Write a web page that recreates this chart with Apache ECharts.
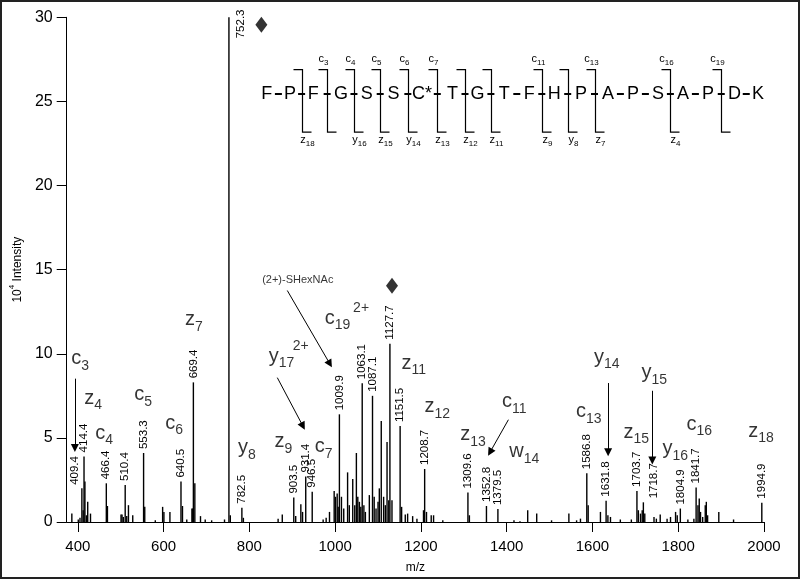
<!DOCTYPE html>
<html><head><meta charset="utf-8">
<script src="https://cdn.jsdelivr.net/npm/echarts@6/dist/echarts.min.js"></script>
<style>html,body{margin:0;padding:0;background:#fff}#c{width:800px;height:579px}</style>
</head><body><div id="c"></div>
<script>
// ---- spectrum peaks (m/z, intensity in 10^4) ----
const peakMz = [386,401,405,409.4,412.4,414.4,416.5,420,423,429.5,466.4,469,500.7,503,506,510.4,514,518,528,553.3,556,580.6,597.7,600.7,614.7,640.5,644,654,666,668,669.4,672.8,686,697,712,742,752.3,755.5,782.5,786,867,876.7,903.5,908,920,924,931.4,946.5,972,979,986.8,997.7,1000.7,1004.7,1007,1009.9,1014.7,1020,1029,1033,1041,1045.7,1049.5,1052.8,1056.5,1059.8,1063.1,1067,1070.5,1079.7,1087.1,1091,1095.3,1100,1103,1107.5,1113,1117,1121,1125,1127.7,1132.5,1151.5,1155,1163.5,1169,1180.7,1190.7,1206,1208.7,1213,1224,1229.5,1251,1309.6,1313,1352.8,1379.5,1417,1431,1449,1470,1504.6,1545,1563,1572,1586.8,1590,1618.6,1631.8,1636,1642,1665,1690.7,1703.7,1707,1712,1716,1718.7,1722,1743.5,1749,1758,1774,1782,1793.8,1797.7,1804.9,1822.5,1836.5,1841.7,1846,1849,1852,1857,1863,1865.5,1868.5,1894.6,1929,1994.9];
const peakInt = [0.5,0.15,0.25,2.0,0.7,3.9,2.4,0.4,1.2,0.5,2.3,0.95,0.45,0.45,0.3,2.2,0.35,1.0,0.4,4.1,0.9,0.1,0.9,0.6,0.6,2.4,0.95,0.15,0.8,0.8,8.3,2.3,0.35,0.15,0.1,0.15,30,0.4,0.85,0.25,0.2,0.45,1.45,0.35,1.05,0.6,2.7,1.8,0.15,0.25,0.6,1.85,1.5,1.7,0.9,6.4,1.5,0.8,2.95,1.0,2.55,1.0,4.1,1.5,1.2,0.9,8.25,1.0,0.6,1.6,7.5,1.5,0.8,1.2,2.0,6.0,1.5,1.0,4.75,1.3,10.6,1.3,5.7,0.9,0.45,0.5,0.35,0.2,0.7,3.15,0.6,0.4,0.4,0.1,1.75,0.4,0.95,0.77,0.1,0.05,0.7,0.5,0.1,0.5,0.1,0.2,2.9,1.0,0.6,1.27,0.4,0.3,0.15,0.15,1.85,0.7,0.5,0.7,1.17,0.5,0.3,0.2,0.45,0.2,0.3,0.6,0.4,0.8,0.15,0.2,2.05,1.0,1.4,0.6,0.3,1.0,1.2,0.4,0.6,0.15,1.15];
const labeledMz = [409.4,414.4,466.4,510.4,553.3,640.5,669.4,752.3,782.5,903.5,931.4,946.5,1009.9,1063.1,1087.1,1127.7,1151.5,1208.7,1309.6,1352.8,1379.5,1586.8,1631.8,1703.7,1718.7,1804.9,1841.7,1994.9];

// ---- ion annotations ----
const ionMain = ['c','z','c','c','c','z','y','z','c','y','c','z','z','z','c','w','c','y','y','z','y','c','z'];
const ionSub  = ['3','4','4','5','6','7','8','9','7','17','19','11','12','13','11','14','13','14','15','15','16','16','18'];
const ionMz   = [386.0,416.3,441.9,532.6,604.7,651.2,774.4,859.8,953.5,846.5,976.7,1155.8,1209.3,1293,1390,1407,1562.8,1604.7,1715.6,1673.7,1764.4,1820.2,1964.4];
const ionInt  = [9.55,7.21,5.13,7.42,5.72,11.87,4.27,4.62,4.33,9.70,11.96,9.29,6.70,5.04,7.0,4.03,6.41,9.64,8.72,5.19,4.21,5.66,5.25];
const chargeText = ['2+','2+'];
const chargeMz = [920.9,1061.6];
const chargeInt = [10.45,12.67];
const noteText = ['(2+)-SHexNAc'];
const noteMz = [914];
const noteInt = [14.34];
const arrowX1 = [393,865.1,888.4,1404,1636.5,1739.5];
const arrowY1 = [8.52,8.58,13.76,6.08,8.26,7.8];
const arrowX2 = [393,924.9,987.7,1361.2,1636.5,1739.5];
const arrowY2 = [4.4,5.7,9.4,4.15,4.15,3.65];
const diamondMz = [827.9,1132.6];
const diamondInt = [29.55,14.05];
const xTicks = [400,600,800,1000,1200,1400,1600,1800,2000];

// ---- peptide sequence inset ----
const pepLetters = ['F','P','F','G','S','S','C*','T','G','T','F','H','P','A','P','S','A','P','D','K'];
const cutIndex = [1,2,3,4,5,6,7,8,10,11,12,15,17];
const cutTopMain = ['','c','c','c','c','c','','','c','','c','c','c'];
const cutTopSub  = ['','3','4','5','6','7','','','11','','13','16','19'];
const cutBotMain = ['z','','y','z','y','z','z','z','z','y','z','z',''];
const cutBotSub  = ['18','','16','15','14','13','12','11','9','8','7','4',''];

const FONT = '"Liberation Sans", Arial, Helvetica, sans-serif';
const chart = echarts.init(document.getElementById('c'), null, {renderer:'canvas', width:800, height:579});

const labelOverride = {
  409.4: {position: [-6.5, -3.5]},
  752.3: {position: [13, 21]},
  1718.7: {position: [11, -4]}
};
const barData = peakMz.map((m, i) => {
  const item = {value: [m, peakInt[i]]};
  if (labeledMz.indexOf(m) >= 0) item.label = Object.assign({show: true}, labelOverride[m] || {});
  return item;
});

// peptide layout (pixel layout of the inset diagram)
const pepX = [266.8,290,313.2,341.1,366.8,393.6,422.1,452.5,477.5,504.3,529.3,554.3,581.1,607.9,632.9,657.9,682.9,707.9,734.6,757.9];
const pepY = 94;
const brTop = 69.6, brBot = 132.1, arm = 9;
const graphics = [];
graphics.push({type:'rect', shape:{x:1, y:1, width:798, height:577}, style:{fill:'none', stroke:'#222', lineWidth:2}, silent:true});
pepLetters.forEach((L, i) => {
  graphics.push({type:'text', x: pepX[i], y: pepY, silent:true,
    style:{text:L, font:'18px ' + FONT, fill:'#000', align:'center', verticalAlign:'middle', textAlign:'center', textVerticalAlign:'middle'}});
});
for (let i = 0; i < pepLetters.length - 1; i++) {
  const sx = (pepX[i] + pepX[i+1]) / 2;
  graphics.push({type:'rect', shape:{x: sx - 3.5, y: pepY - 1, width: 7, height: 2}, style:{fill:'#000'}, silent:true});
}
const smallRich = {
  a: {fontSize: 11, lineHeight: 13, verticalAlign: 'top', fontFamily: FONT, color: '#000'},
  b: {fontSize: 8, lineHeight: 4, verticalAlign: 'bottom', fontFamily: FONT, color: '#000'}
};
cutIndex.forEach((ci, k) => {
  const v = Math.round((pepX[ci] + pepX[ci+1]) / 2) + 0.5;
  graphics.push({type:'polyline', shape:{points:[[v-arm, brTop],[v, brTop],[v, brBot],[v+arm, brBot]]},
    style:{stroke:'#000', lineWidth:1.2, fill:'none'}, silent:true});
  if (cutTopMain[k]) {
    graphics.push({type:'text', x: v - 4, y: 60, silent:true,
      style:{text:'{a|' + cutTopMain[k] + '}{b|' + cutTopSub[k] + '}', rich: smallRich, fill:'#000', align:'center', verticalAlign:'middle', textAlign:'center', textVerticalAlign:'middle'}});
  }
  if (cutBotMain[k]) {
    graphics.push({type:'text', x: v + 5, y: 141, silent:true,
      style:{text:'{a|' + cutBotMain[k] + '}{b|' + cutBotSub[k] + '}', rich: smallRich, fill:'#000', align:'center', verticalAlign:'middle', textAlign:'center', textVerticalAlign:'middle'}});
  }
});

const option = {
  animation: false,
  backgroundColor: '#fff',
  textStyle: {fontFamily: FONT, color: '#000'},
  grid: {left: 64, right: 36, top: 17.3, bottom: 56.7, containLabel: false},
  xAxis: {
    type: 'value', min: 374, max: 2000,
    name: 'm/z', nameLocation: 'middle', nameGap: 40,
    nameTextStyle: {fontSize: 12, color: '#000', fontFamily: FONT},
    axisLine: {show: true, lineStyle: {color: '#000', width: 1}},
    axisTick: {show: true, length: 10, inside: false, customValues: xTicks, lineStyle: {color: '#000'}},
    axisLabel: {show: true, customValues: xTicks, fontSize: 15, color: '#000', margin: 17, fontFamily: FONT,
      formatter: v => String(v)},
    splitLine: {show: false}
  },
  yAxis: {
    type: 'value', min: 0, max: 30, interval: 5,
    name: '{a|10}{s|4}{a| Intensity}', nameLocation: 'middle', nameGap: 39, nameRotate: 90,
    nameTextStyle: {
      rich: {
        a: {fontSize: 12, lineHeight: 16, verticalAlign: 'bottom', color: '#000', fontFamily: FONT},
        s: {fontSize: 8, lineHeight: 8, verticalAlign: 'top', color: '#000', fontFamily: FONT}
      }
    },
    axisLine: {show: true, lineStyle: {color: '#000', width: 1}},
    axisTick: {show: true, length: 10, inside: false, lineStyle: {color: '#000'}},
    axisLabel: {fontSize: 16, color: '#000', margin: 14, fontFamily: FONT, formatter: v => String(v)},
    splitLine: {show: false}
  },
  series: [
    {
      type: 'bar', barWidth: 1.4, data: barData, silent: true,
      itemStyle: {color: '#000'},
      label: {show: false, position: 'top', distance: 4, rotate: 90, align: 'left', verticalAlign: 'middle',
        fontSize: 11.5, color: '#000', fontFamily: FONT,
        formatter: p => p.value[0].toFixed(1)}
    },
    {
      type: 'scatter', silent: true, symbol: 'circle', symbolSize: 1,
      itemStyle: {color: 'rgba(0,0,0,0)'},
      data: ionMz.map((m, i) => [m, ionInt[i]]),
      label: {show: true, position: [0, 0], align: 'left', verticalAlign: 'middle',
        formatter: p => '{b|' + ionMain[p.dataIndex] + '}{s|' + ionSub[p.dataIndex] + '}',
        rich: {
          b: {fontSize: 20, lineHeight: 24, verticalAlign: 'top', color: '#000', fontFamily: FONT},
          s: {fontSize: 14, lineHeight: 8, verticalAlign: 'bottom', color: '#000', fontFamily: FONT}
        }},
      markLine: {
        silent: true, animation: false, symbol: ['none', 'triangle'], symbolSize: 8,
        label: {show: false}, emphasis: {disabled: true},
        lineStyle: {color: '#000', width: 1, type: 'solid'},
        data: arrowX1.map((x, i) => [{coord: [x, arrowY1[i]]}, {coord: [arrowX2[i], arrowY2[i]]}])
      }
    },
    {
      type: 'scatter', silent: true, symbol: 'circle', symbolSize: 1,
      itemStyle: {color: 'rgba(0,0,0,0)'},
      data: chargeMz.map((m, i) => [m, chargeInt[i]]),
      label: {show: true, position: [0, 0], align: 'center', verticalAlign: 'middle', fontSize: 14, color: '#000', fontFamily: FONT,
        formatter: p => chargeText[p.dataIndex]}
    },
    {
      type: 'scatter', silent: true, symbol: 'circle', symbolSize: 1,
      itemStyle: {color: 'rgba(0,0,0,0)'},
      data: noteMz.map((m, i) => [m, noteInt[i]]),
      label: {show: true, position: [0, 0], align: 'center', verticalAlign: 'middle', fontSize: 11, color: '#000', fontFamily: FONT,
        formatter: p => noteText[p.dataIndex]}
    },
    {
      type: 'scatter', silent: true, symbol: 'diamond', symbolSize: [12, 16],
      itemStyle: {color: '#000'},
      data: diamondMz.map((m, i) => [m, diamondInt[i]])
    }
  ],
  graphic: graphics
};
chart.setOption(option);
</script>
</body></html>
